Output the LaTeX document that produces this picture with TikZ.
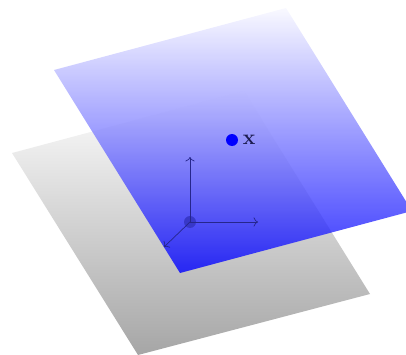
\documentclass[tikz,border=0pt]{standalone}
\usepackage{amsmath,amssymb}
\usepackage{xcolor}
\usetikzlibrary{arrows.meta,positioning}
\definecolor{azulejes}{RGB}{38,38,140}
\definecolor{azulorigen}{RGB}{56,56,200}
\definecolor{azulx}{RGB}{28,28,80}
\tikzset{
  plano/.style={top color=white,bottom color=gray!70},
  planoazul/.style={top color=blue!3,bottom color=blue,fill opacity=0.8},
  pt/.style={circle,fill=blue,inner sep=0pt,minimum size=0.24cm},
  origen/.style={circle,fill=azulorigen,inner sep=0pt,minimum size=0.24cm},
  ejes/.style={->,azulejes,thin}
}

\begin{document}
\begin{tikzpicture}[x=0.02cm,y=-0.02cm]
\useasboundingbox (0,0) rectangle (406,355);
% plano gris
\shade[plano] (12,153) -- (244,91) -- (370,294) -- (138,355) -- cycle;
% plano azul
\shade[planoazul] (54,70) -- (286,8) -- (412,211) -- (180,273) -- cycle;
% ejes
\node[origen] (o) at (190,222) {};
\coordinate (e1) at (258,222);
\coordinate (e2) at (190,157);
\coordinate (e3) at (164,247);
\draw[ejes] (o.center) -- (e1);
\draw[ejes] (o.center) -- (e2);
\draw[ejes] (o.center) -- (e3);
% punto
\node[pt] (x) at (232,140) {};
\node[right=-1pt of x,text=azulx,font=\large] (xl) {$\mathbf{x}$};
\end{tikzpicture}
\end{document}
